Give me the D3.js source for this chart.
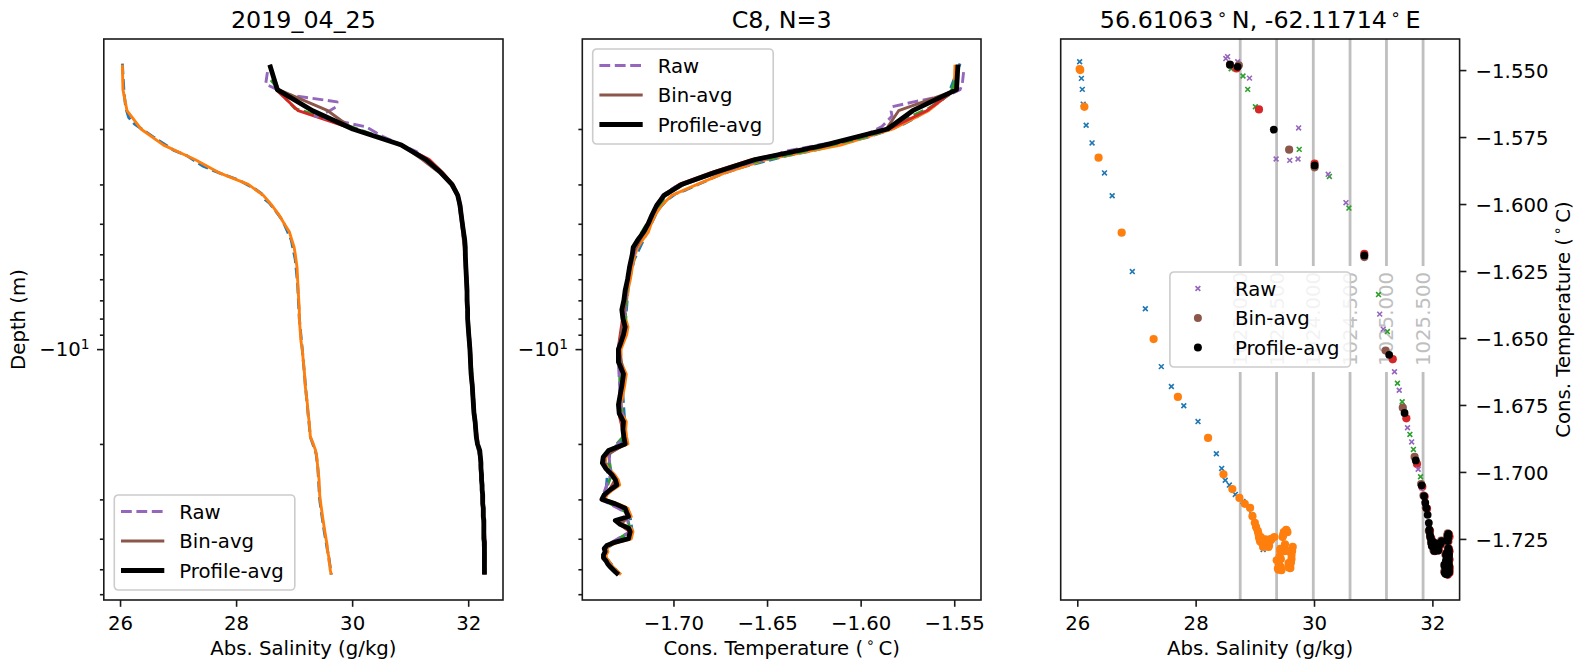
<!DOCTYPE html>
<html>
<head>
<meta charset="utf-8">
<script src="https://cdn.jsdelivr.net/npm/d3@7"></script>
<style>
  html, body { margin: 0; padding: 0; background: #fff; }
  svg { display: block; font-family: "DejaVu Sans", sans-serif; }
</style>
</head>
<body>
<svg class="js-render-chart" width="1589" height="663"></svg>
<script>
"use strict";

//data: bin-averaged profile A and profile average share the same bins

const binDepth = [1.25, 1.5, 1.75, 2, 2.25, 2.5, 2.75, 3, 3.25, 3.5, 3.75, 4, 4.25, 4.5, 4.75, 5,
  5.5, 6, 6.5, 7, 7.5, 8, 8.5, 9, 9.5, 10, 11, 12, 13, 14, 15, 16, 17, 18, 19, 20, 21, 22, 23, 24,
  25, 26, 27, 28, 29, 30, 31, 32, 33, 34, 35, 36, 37, 38, 39, 40, 41, 42, 43, 44, 45, 46, 47, 48,
  49, 50, 51, 52];

const binSalA = [26.04, 26.05, 26.12, 26.36, 26.75, 27.29, 27.70, 28.21, 28.47, 28.62, 28.74, 28.83,
  28.92, 28.96, 29.00, 29.02, 29.05, 29.06, 29.07, 29.08, 29.09, 29.09, 29.10, 29.11, 29.12, 29.14,
  29.16, 29.18, 29.19, 29.21, 29.23, 29.24, 29.26, 29.27, 29.28, 29.33, 29.37, 29.39, 29.40, 29.41,
  29.42, 29.43, 29.43, 29.44, 29.44, 29.45, 29.46, 29.47, 29.48, 29.49, 29.50, 29.51, 29.52, 29.53,
  29.54, 29.55, 29.56, 29.57, 29.57, 29.58, 29.59, 29.60, 29.60, 29.61, 29.62, 29.62, 29.63, 29.64];

const binTempA = [-1.5496, -1.5500, -1.5637, -1.5827, -1.6107, -1.6504, -1.6720, -1.6873, -1.7009,
  -1.7064, -1.7097, -1.7119, -1.7134, -1.7165, -1.7190, -1.7205, -1.7220, -1.7230, -1.7243, -1.7250,
  -1.7260, -1.7255, -1.7243, -1.7250, -1.7265, -1.7280, -1.7280, -1.7252, -1.7260, -1.7270, -1.7280,
  -1.7275, -1.7252, -1.7255, -1.7250, -1.7243, -1.7330, -1.7360, -1.7365, -1.7345, -1.7315, -1.7295,
  -1.7287, -1.7325, -1.7355, -1.7367, -1.7295, -1.7243, -1.7235, -1.7225, -1.7296, -1.7270, -1.7225,
  -1.7216, -1.7221, -1.7225, -1.7295, -1.7340, -1.7355, -1.7350, -1.7359, -1.7359, -1.7345, -1.7337,
  -1.7325, -1.7310, -1.7295, -1.7280];

const avgSal = [28.58, 28.71, 29.32, 30.01, 30.85, 31.27, 31.53, 31.72, 31.82, 31.86, 31.88, 31.90,
  31.92, 31.94, 31.95, 31.95, 31.96, 31.97, 31.98, 31.98, 31.99, 31.99, 32.00, 32.01, 32.02, 32.03,
  32.04, 32.05, 32.07, 32.08, 32.09, 32.10, 32.12, 32.13, 32.14, 32.16, 32.20, 32.21, 32.22, 32.22,
  32.23, 32.23, 32.24, 32.24, 32.25, 32.25, 32.25, 32.26, 32.26, 32.26, 32.27, 32.27, 32.27, 32.27,
  32.27, 32.27, 32.28, 32.28, 32.28, 32.28, 32.28, 32.28, 32.28, 32.28, 32.28, 32.28, 32.28, 32.28];

const avgTemp = [-1.5480, -1.5488, -1.5722, -1.5856, -1.6192, -1.6563, -1.6780, -1.6957, -1.7050,
  -1.7090, -1.7115, -1.7135, -1.7160, -1.7190, -1.7215, -1.7220, -1.7235, -1.7245, -1.7258, -1.7265,
  -1.7276, -1.7270, -1.7258, -1.7267, -1.7280, -1.7294, -1.7294, -1.7267, -1.7275, -1.7285, -1.7294,
  -1.7290, -1.7267, -1.7270, -1.7265, -1.7258, -1.7347, -1.7375, -1.7380, -1.7360, -1.7330, -1.7310,
  -1.7302, -1.7340, -1.7370, -1.7382, -1.7310, -1.7258, -1.7250, -1.7240, -1.7311, -1.7285, -1.7240,
  -1.7231, -1.7236, -1.7240, -1.7310, -1.7356, -1.7370, -1.7365, -1.7374, -1.7374, -1.7360, -1.7352,
  -1.7340, -1.7325, -1.7310, -1.7294];

//data: bin-averaged profiles B and C

const binDepthB = [1.5, 1.75, 2, 2.25, 2.5, 2.75, 3, 3.25, 3.5, 4, 5, 6, 8, 10, 12, 14, 16, 18, 20,
  22, 24, 26, 28, 30, 32, 34, 36, 38, 40, 42, 44, 46, 48, 50, 52];

const binSalB = [28.69, 29.07, 30.01, 30.85, 31.33, 31.56, 31.74, 31.83, 31.87, 31.91, 31.96, 31.98,
  32.00, 32.04, 32.06, 32.09, 32.11, 32.14, 32.17, 32.22, 32.23, 32.24, 32.25, 32.26, 32.27, 32.27,
  32.28, 32.28, 32.29, 32.29, 32.29, 32.29, 32.29, 32.29, 32.29];

const binTempB = [-1.5494, -1.5647, -1.5849, -1.6186, -1.6579, -1.6800, -1.6970, -1.7055, -1.7092,
  -1.7137, -1.7220, -1.7247, -1.7272, -1.7296, -1.7269, -1.7287, -1.7292, -1.7272, -1.7260, -1.7377,
  -1.7362, -1.7312, -1.7342, -1.7384, -1.7260, -1.7242, -1.7287, -1.7233, -1.7242, -1.7358, -1.7367,
  -1.7376, -1.7354, -1.7327, -1.7296];

const binDepthC = [1.25, 1.5, 1.75, 2, 2.25, 2.5, 2.75, 3, 3.25, 3.5, 4, 5, 6, 8, 10, 12, 14, 16, 18,
  20, 22, 24, 26, 28, 30, 32, 34, 36, 38, 40, 42, 44, 46, 48, 50, 52];

const binSalC = [28.58, 28.73, 29.58, 30.01, 30.85, 31.21, 31.50, 31.70, 31.81, 31.85, 31.89, 31.94,
  31.96, 31.99, 32.02, 32.04, 32.07, 32.09, 32.12, 32.15, 32.20, 32.21, 32.22, 32.23, 32.24, 32.25,
  32.25, 32.26, 32.26, 32.26, 32.26, 32.27, 32.27, 32.27, 32.27, 32.27];

const binTempC = [-1.5480, -1.5482, -1.5797, -1.5863, -1.6198, -1.6547, -1.6760, -1.6944, -1.7045,
  -1.7088, -1.7133, -1.7220, -1.7243, -1.7268, -1.7292, -1.7265, -1.7283, -1.7288, -1.7268, -1.7256,
  -1.7373, -1.7358, -1.7308, -1.7338, -1.7380, -1.7256, -1.7238, -1.7283, -1.7229, -1.7238, -1.7354,
  -1.7363, -1.7372, -1.7350, -1.7323, -1.7292];

//data: raw profiles

const rawDepthA = [1.24, 1.55, 1.63, 1.72, 1.84, 1.93, 2.05, 2.13, 2.34, 2.43, 2.62, 2.70, 2.80,
  2.90, 3.12, 3.21, 3.35, 3.43, 3.62, 3.9, 4.5, 5.2, 6.2, 8, 10, 14, 19, 21.5, 24, 30, 33, 38, 43,
  46, 52];

const rawSalA = [26.04, 26.07, 26.085, 26.10, 26.15, 26.25, 26.46, 26.59, 26.93, 27.15, 27.42, 27.59,
  27.80, 28.04, 28.35, 28.44, 28.50, 28.57, 28.67, 28.80, 28.95, 29.02, 29.06, 29.09, 29.14, 29.21,
  29.28, 29.38, 29.41, 29.44, 29.47, 29.52, 29.57, 29.60, 29.64];

const rawTempA = [-1.5469, -1.5531, -1.5572, -1.5627, -1.5706, -1.5772, -1.5884, -1.5969, -1.6252,
  -1.6391, -1.6607, -1.6681, -1.6753, -1.6812, -1.6932, -1.6987, -1.7031, -1.7049, -1.7084, -1.7110,
  -1.7160, -1.7210, -1.7240, -1.7255, -1.7290, -1.7270, -1.7255, -1.7340, -1.7350, -1.7365, -1.7235,
  -1.7220, -1.7360, -1.7360, -1.7285];

const rawDepthB = [1.40, 1.55, 1.62, 1.72, 1.90, 2.05, 2.15, 2.38, 2.48, 2.62, 2.70, 2.85, 2.93,
  3.15, 3.6, 4.5, 6, 8.5, 10, 14, 19, 21.5, 25, 30, 33, 38, 42, 46, 52];

const rawSalB = [28.60, 28.80, 28.88, 29.01, 29.75, 30.26, 30.59, 31.09, 31.24, 31.41, 31.49, 31.62,
  31.68, 31.80, 31.87, 31.95, 31.98, 32.01, 32.04, 32.09, 32.15, 32.21, 32.24, 32.26, 32.27, 32.28,
  32.28, 32.29, 32.29];

const rawTempB = [-1.5495, -1.5522, -1.5572, -1.5637, -1.5796, -1.5897, -1.6015, -1.6338, -1.6476,
  -1.6669, -1.6738, -1.6860, -1.6916, -1.7018, -1.7095, -1.7195, -1.7245, -1.7260, -1.7290, -1.7285,
  -1.7270, -1.7350, -1.7330, -1.7380, -1.7250, -1.7231, -1.7356, -1.7374, -1.7294];

const rawDepthC = [1.32, 1.44, 1.50, 1.56, 1.64, 1.70, 1.76, 1.82, 1.97, 2.12, 2.36, 2.45, 2.60,
  2.68, 2.83, 2.90, 3.05, 3.25, 3.7, 4.6, 6, 8.5, 10, 14, 19, 21.5, 25, 30, 33, 38, 42, 46, 52];

const rawSalC = [28.54, 28.51, 28.71, 28.91, 29.74, 29.73, 29.59, 29.36, 30.24, 30.54, 31.11, 31.17,
  31.36, 31.44, 31.58, 31.65, 31.76, 31.82, 31.86, 31.93, 31.96, 31.99, 32.02, 32.07, 32.13, 32.19,
  32.22, 32.24, 32.25, 32.27, 32.27, 32.27, 32.27];

const rawTempC = [-1.5450, -1.5457, -1.5469, -1.5530, -1.5716, -1.5832, -1.5837, -1.5832, -1.5889,
  -1.5995, -1.6411, -1.6467, -1.6626, -1.6695, -1.6835, -1.6888, -1.6990, -1.7059, -1.7105, -1.7195,
  -1.7245, -1.7265, -1.7298, -1.7285, -1.7262, -1.7345, -1.7335, -1.7385, -1.7255, -1.7231, -1.7360,
  -1.7374, -1.7294];

//data: density contours, ticks, texts

const sigmaLevels = [1023.0, 1023.5, 1024.0, 1024.5, 1025.0, 1025.5];
const sigmaSal = [28.753, 29.368, 29.988, 30.609, 31.224, 31.843];

const salTicks = [26, 28, 30, 32];
const tempTicks = [-1.70, -1.65, -1.60, -1.55];
const tsTempTicks = [-1.550, -1.575, -1.600, -1.625, -1.650, -1.675, -1.700, -1.725];
const depthMajor = [10];
const depthMinor = [2, 3, 4, 5, 6, 7, 8, 9, 20, 30, 40, 50, 60];

const titles = ["2019_04_25", "C8, N=3"];
const legendLabels = ["Raw", "Bin-avg", "Profile-avg"];

//layout

const plotTop = 39;
const plotBottom = 600;
const frames = [
  { left: 103.8, right: 503 },
  { left: 582.3, right: 981 },
  { left: 1060.7, right: 1459.6 }
];
const fs = 19.7;
const fsTitle = 23.8;
const ink = "#1a1a1a";

//scales

const yDepth = d3.scaleLog().domain([1.036, 62.6]).range([plotTop, plotBottom]);
const xSal = d3.scaleLinear().domain([25.72, 32.6]).range([frames[0].left, frames[0].right]);
const xTemp = d3.scaleLinear().domain([-1.7487, -1.5357]).range([frames[1].left, frames[1].right]);
const xSalTS = d3.scaleLinear().domain([25.72, 32.46]).range([frames[2].left, frames[2].right]);
const yTempTS = d3.scaleLinear().domain([-1.7478, -1.5384]).range([plotBottom, plotTop]);

//series

const rows = (depth, sal, temp) => depth.map((d, i) => ({ d, s: sal[i], t: temp[i] }));

const series = [
  { rows: rows(rawDepthA, rawSalA, rawTempA), color: "#1f77b4", kind: "raw" },
  { rows: rows(binDepth, binSalA, binTempA), color: "#ff7f0e", kind: "bin" },
  { rows: rows(rawDepthB, rawSalB, rawTempB), color: "#2ca02c", kind: "raw" },
  { rows: rows(binDepthB, binSalB, binTempB), color: "#d62728", kind: "bin" },
  { rows: rows(rawDepthC, rawSalC, rawTempC), color: "#9467bd", kind: "raw" },
  { rows: rows(binDepthC, binSalC, binTempC), color: "#8c564b", kind: "bin" },
  { rows: rows(binDepth, avgSal, avgTemp), color: "#000000", kind: "avg" }
];

const legendEntries = [
  { label: legendLabels[0], color: "#9467bd", kind: "raw" },
  { label: legendLabels[1], color: "#8c564b", kind: "bin" },
  { label: legendLabels[2], color: "#000000", kind: "avg" }
];

const lineStyle = {
  raw: { w: 2.9, dash: "10.8 4.6" },
  bin: { w: 2.9, dash: null },
  avg: { w: 4.8, dash: null }
};

const markerPath = "M-2.4,-2.4L2.4,2.4M-2.4,2.4L2.4,-2.4";

//svg

const svg = d3.select(".js-render-chart");
svg.append("rect").attr("width", 1589).attr("height", 663).attr("fill", "#fff");

const defs = svg.append("defs");
frames.forEach((f, i) => {
  defs.append("clipPath")
    .attr("id", `clip${i}`)
    .append("rect")
    .attr("x", f.left)
    .attr("y", plotTop)
    .attr("width", f.right - f.left)
    .attr("height", plotBottom - plotTop);
});

//helpers

const styleAxis = (g) => {
  g.select(".domain").remove();
  g.selectAll("line").attr("stroke", ink).attr("stroke-width", 1.6);
  g.selectAll("text").attr("fill", "#000").attr("font-size", fs).attr("font-family", "DejaVu Sans");
  return g;
};

const bottomAxis = (scale, ticks, fmt) => {
  const g = svg.append("g")
    .attr("transform", `translate(0, ${plotBottom})`)
    .call(d3.axisBottom(scale).tickValues(ticks).tickSize(6.8).tickFormat(fmt));
  styleAxis(g).selectAll("text").attr("y", 30).attr("dy", null);
};

const depthAxis = (f) => {
  const gMinor = svg.append("g")
    .attr("transform", `translate(${f.left}, 0)`)
    .call(d3.axisLeft(yDepth).tickValues(depthMinor).tickSize(3.9).tickFormat(""));
  styleAxis(gMinor);

  const gMajor = svg.append("g")
    .attr("transform", `translate(${f.left}, 0)`)
    .call(d3.axisLeft(yDepth).tickValues(depthMajor).tickSize(6.8).tickFormat(""));
  styleAxis(gMajor);

  depthMajor.forEach((v) => {
    const t = svg.append("text")
      .attr("x", f.left - 14.2)
      .attr("y", yDepth(v) + 7)
      .attr("text-anchor", "end")
      .attr("font-size", fs)
      .text("\u2212" + v);
    t.append("tspan").attr("font-size", fs * 0.7).attr("dy", -7.5).text(Math.log10(v));
  });
};

const frameRect = (f) => {
  svg.append("rect")
    .attr("x", f.left)
    .attr("y", plotTop)
    .attr("width", f.right - f.left)
    .attr("height", plotBottom - plotTop)
    .attr("fill", "none")
    .attr("stroke", ink)
    .attr("stroke-width", 1.6);
};

const legend = (x, y, useMarkers) => {
  const g = svg.append("g").attr("transform", `translate(${x}, ${y})`);
  g.append("rect")
    .attr("width", 180.5)
    .attr("height", 95)
    .attr("rx", 4)
    .attr("fill", "#fff")
    .attr("fill-opacity", 0.8)
    .attr("stroke", "#cccccc")
    .attr("stroke-width", 1.6);
  legendEntries.forEach((e, i) => {
    const cy = 16.5 + i * 29.5;
    if (useMarkers) {
      if (e.kind === "raw") {
        g.append("path")
          .attr("transform", `translate(28, ${cy})`)
          .attr("d", markerPath)
          .attr("stroke", e.color)
          .attr("stroke-width", 1.6);
      } else {
        g.append("circle").attr("cx", 28).attr("cy", cy).attr("r", 4).attr("fill", e.color);
      }
    } else {
      g.append("line")
        .attr("x1", 6.7)
        .attr("x2", 50)
        .attr("y1", cy)
        .attr("y2", cy)
        .attr("stroke", e.color)
        .attr("stroke-width", lineStyle[e.kind].w)
        .attr("stroke-dasharray", lineStyle[e.kind].dash);
    }
    g.append("text")
      .attr("x", 65)
      .attr("y", cy + 7)
      .attr("font-size", fs)
      .text(e.label);
  });
};

const degreeText = (sel, parts) => {
  parts.forEach((p, i) => {
    if (i > 0) {
      sel.append("tspan").attr("font-size", sel.attr("font-size") * 0.7).attr("dy", -8).text("\u2009\u2218");
      sel.append("tspan").attr("dy", 8).text("\u2009" + p);
    } else {
      sel.append("tspan").text(p);
    }
  });
};

//panel 1 and 2: depth profiles

const profilePanel = (idx, xScale, key) => {
  const f = frames[idx];
  const g = svg.append("g").attr("clip-path", `url(#clip${idx})`);
  series.forEach((sr) => {
    const st = lineStyle[sr.kind];
    g.append("path")
      .datum(sr.rows)
      .attr("d", d3.line().x((r) => xScale(r[key])).y((r) => yDepth(r.d)))
      .attr("fill", "none")
      .attr("stroke", sr.color)
      .attr("stroke-width", st.w)
      .attr("stroke-linejoin", "round")
      .attr("stroke-dasharray", st.dash);
  });
  frameRect(f);
  depthAxis(f);
};

profilePanel(0, xSal, "s");
profilePanel(1, xTemp, "t");

bottomAxis(xSal, salTicks, d3.format("d"));
bottomAxis(xTemp, tempTicks, d3.format(".2f"));

svg.append("text")
  .attr("transform", `translate(25.4, ${(plotTop + plotBottom) / 2}) rotate(-90)`)
  .attr("text-anchor", "middle")
  .attr("font-size", fs)
  .text("Depth (m)");

legend(114.3, 495, false);
legend(592.7, 49, false);

//panel 3: T-S diagram

const f3 = frames[2];
const g3 = svg.append("g").attr("clip-path", "url(#clip2)");
const labelY = 319;
const gapHalf = 53;

sigmaSal.forEach((s, i) => {
  const x = xSalTS(s);
  [[plotTop, labelY - gapHalf], [labelY + gapHalf, plotBottom]].forEach(([y0, y1]) => {
    g3.append("line")
      .attr("x1", x)
      .attr("x2", x)
      .attr("y1", y0)
      .attr("y2", y1)
      .attr("stroke", "#bfbfbf")
      .attr("stroke-width", 2.8);
  });
  g3.append("text")
    .attr("transform", `translate(${x + 7}, ${labelY}) rotate(-90)`)
    .attr("text-anchor", "middle")
    .attr("font-size", fs)
    .attr("fill", "#bfbfbf")
    .text(d3.format(".3f")(sigmaLevels[i]));
});

series.forEach((sr) => {
  if (sr.kind === "raw") {
    g3.append("g")
      .selectAll("path")
      .data(sr.rows)
      .join("path")
      .attr("transform", (r) => `translate(${xSalTS(r.s)}, ${yTempTS(r.t)})`)
      .attr("d", markerPath)
      .attr("stroke", sr.color)
      .attr("stroke-width", 1.6);
  } else {
    g3.append("g")
      .selectAll("circle")
      .data(sr.rows)
      .join("circle")
      .attr("cx", (r) => xSalTS(r.s))
      .attr("cy", (r) => yTempTS(r.t))
      .attr("r", sr.kind === "avg" ? 3.9 : 4.1)
      .attr("fill", sr.color);
  }
});

frameRect(f3);
bottomAxis(xSalTS, salTicks, d3.format("d"));

const gRight = svg.append("g")
  .attr("transform", `translate(${f3.right}, 0)`)
  .call(d3.axisRight(yTempTS).tickValues(tsTempTicks).tickSize(6.8).tickFormat(d3.format(".3f")));
styleAxis(gRight).selectAll("text").attr("x", 16).attr("dy", "0.36em");

const yLab3 = svg.append("text")
  .attr("transform", `translate(1570, ${(plotTop + plotBottom) / 2}) rotate(-90)`)
  .attr("text-anchor", "middle")
  .attr("font-size", fs);
degreeText(yLab3, ["Cons. Temperature (", "C)"]);

legend((f3.left + f3.right) / 2 - 90.25, (plotTop + plotBottom) / 2 - 47.5, true);

//axis labels and titles

const xLabels = [
  { x: (frames[0].left + frames[0].right) / 2, parts: ["Abs. Salinity (g/kg)"] },
  { x: (frames[1].left + frames[1].right) / 2, parts: ["Cons. Temperature (", "C)"] },
  { x: (frames[2].left + frames[2].right) / 2, parts: ["Abs. Salinity (g/kg)"] }
];

xLabels.forEach((l) => {
  const t = svg.append("text")
    .attr("x", l.x)
    .attr("y", 655)
    .attr("text-anchor", "middle")
    .attr("font-size", fs);
  degreeText(t, l.parts);
});

titles.forEach((txt, i) => {
  svg.append("text")
    .attr("x", (frames[i].left + frames[i].right) / 2)
    .attr("y", 27.5)
    .attr("text-anchor", "middle")
    .attr("font-size", fsTitle)
    .text(txt);
});

const title3 = svg.append("text")
  .attr("x", (f3.left + f3.right) / 2)
  .attr("y", 27.5)
  .attr("text-anchor", "middle")
  .attr("font-size", fsTitle);
degreeText(title3, ["56.61063", "N, -62.11714", "E"]);

</script>
</body>
</html>
